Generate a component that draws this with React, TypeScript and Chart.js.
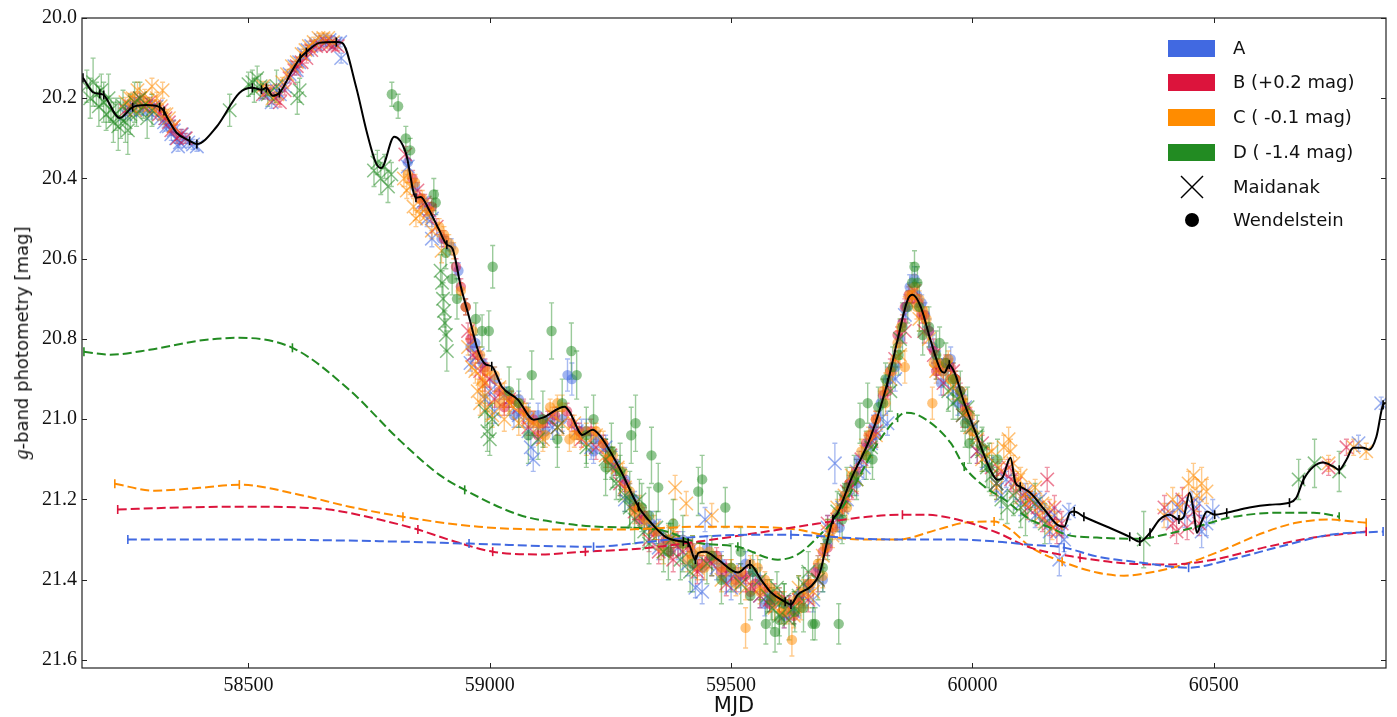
import React, { useEffect, useRef } from 'react';
import { Chart, registerables } from 'chart.js';
Chart.register(...registerables);

// ---------- axis ranges / ticks ----------
const X_MIN = 58155;
const X_MAX = 60857;
const Y_MIN = 20.0;
const Y_MAX = 21.62;
const X_TICKS = [58500, 59000, 59500, 60000, 60500];
const Y_TICKS = [20.0, 20.2, 20.4, 20.6, 20.8, 21.0, 21.2, 21.4, 21.6];

// ---------- model (black) curve ----------
const MODEL_MJD = [58157, 58178, 58192, 58200, 58233, 58260, 58289, 58316, 58325, 58331, 58351, 58378, 58393, 58434, 58481, 58508, 58527, 58537, 58550, 58564, 58591, 58607, 58620, 58647, 58682, 58694, 58723, 58744, 58764, 58775, 58802, 58826, 58847, 58857, 58874, 58895, 58911, 58922, 58940, 58957, 58977, 58992, 59004, 59025, 59058, 59091, 59110, 59155, 59165, 59192, 59213, 59227, 59267, 59308, 59328, 59364, 59401, 59411, 59426, 59432, 59446, 59473, 59514, 59539, 59562, 59583, 59612, 59624, 59638, 59665, 59684, 59700, 59711, 59721, 59748, 59789, 59824, 59845, 59866, 59876, 59893, 59913, 59934, 59942, 59952, 59963, 59983, 60010, 60037, 60052, 60062, 60079, 60089, 60099, 60120, 60149, 60176, 60190, 60202, 60211, 60231, 60279, 60326, 60347, 60368, 60388, 60409, 60428, 60438, 60450, 60459, 60465, 60475, 60486, 60502, 60527, 60574, 60616, 60657, 60671, 60686, 60707, 60727, 60748, 60760, 60775, 60789, 60810, 60822, 60837, 60851, 60857];
const MODEL_MAG = [20.149, 20.185, 20.189, 20.192, 20.249, 20.222, 20.217, 20.222, 20.232, 20.247, 20.286, 20.306, 20.314, 20.271, 20.187, 20.174, 20.179, 20.174, 20.194, 20.187, 20.130, 20.100, 20.085, 20.062, 20.060, 20.062, 20.172, 20.279, 20.361, 20.374, 20.296, 20.336, 20.448, 20.446, 20.478, 20.528, 20.565, 20.573, 20.670, 20.745, 20.834, 20.864, 20.868, 20.919, 20.951, 21.001, 20.996, 20.969, 20.981, 21.039, 21.026, 21.039, 21.118, 21.218, 21.250, 21.293, 21.305, 21.308, 21.350, 21.333, 21.330, 21.350, 21.382, 21.362, 21.400, 21.432, 21.455, 21.462, 21.437, 21.417, 21.382, 21.300, 21.250, 21.233, 21.151, 21.044, 20.909, 20.802, 20.702, 20.690, 20.720, 20.802, 20.877, 20.884, 20.864, 20.884, 20.959, 21.044, 21.126, 21.151, 21.146, 21.096, 21.158, 21.168, 21.183, 21.225, 21.263, 21.268, 21.233, 21.230, 21.243, 21.268, 21.293, 21.305, 21.283, 21.250, 21.238, 21.250, 21.243, 21.183, 21.233, 21.283, 21.255, 21.230, 21.238, 21.233, 21.220, 21.213, 21.208, 21.196, 21.151, 21.118, 21.108, 21.118, 21.126, 21.101, 21.071, 21.071, 21.076, 21.044, 20.964, 20.959];
const MODEL_KNOTS = [58157, 58192, 58200, 58260, 58316, 58325, 58378, 58393, 58508, 58527, 58537, 58564, 58607, 58620, 58682, 58847, 58911, 59004, 59308, 59401, 59411, 59426, 59539, 59612, 59624, 59711, 59824, 59952, 60099, 60211, 60231, 60326, 60347, 60368, 60428, 60502, 60527, 60657, 60686, 60760, 60851];

// ---------- microlensing (dashed) curves ----------
const ML_A_MJD = [58250, 58502, 58812, 58957, 59215, 59308, 59432, 59535, 59624, 59707, 59777, 59845, 59969, 60052, 60120, 60190, 60258, 60347, 60448, 60533, 60636, 60740, 60851];
const ML_A_MAG = [21.300, 21.300, 21.305, 21.310, 21.318, 21.308, 21.293, 21.288, 21.288, 21.293, 21.298, 21.300, 21.300, 21.305, 21.313, 21.320, 21.342, 21.357, 21.370, 21.350, 21.318, 21.288, 21.280];
const ML_A_KNOTS = [58250, 58957, 59215, 59624, 60190, 60448, 60851];

const ML_B_MJD = [58229, 58357, 58483, 58605, 58667, 58771, 58851, 58936, 59006, 59101, 59198, 59308, 59432, 59556, 59680, 59783, 59855, 59901, 59969, 60052, 60120, 60223, 60326, 60409, 60500, 60603, 60707, 60816];
const ML_B_MAG = [21.225, 21.220, 21.218, 21.220, 21.225, 21.250, 21.275, 21.308, 21.330, 21.337, 21.330, 21.323, 21.305, 21.283, 21.260, 21.243, 21.238, 21.238, 21.250, 21.283, 21.320, 21.345, 21.360, 21.362, 21.350, 21.320, 21.295, 21.280];
const ML_B_KNOTS = [58229, 58851, 59006, 59198, 59855, 60223, 60816];

const ML_C_MJD = [58223, 58306, 58399, 58481, 58605, 58709, 58820, 58977, 59143, 59267, 59432, 59514, 59638, 59707, 59777, 59845, 59928, 59983, 60045, 60079, 60120, 60186, 60258, 60314, 60368, 60438, 60521, 60603, 60671, 60740, 60789, 60816];
const ML_C_MAG = [21.161, 21.178, 21.171, 21.163, 21.188, 21.218, 21.243, 21.268, 21.275, 21.275, 21.268, 21.268, 21.275, 21.293, 21.300, 21.300, 21.275, 21.258, 21.255, 21.275, 21.318, 21.355, 21.382, 21.390, 21.382, 21.362, 21.325, 21.283, 21.258, 21.250, 21.255, 21.258];
const ML_C_KNOTS = [58223, 58481, 58820, 60045, 60186, 60816];

const ML_D_MJD = [58159, 58213, 58295, 58399, 58481, 58591, 58709, 58812, 58895, 58948, 59060, 59143, 59225, 59349, 59432, 59514, 59597, 59638, 59680, 59721, 59762, 59804, 59845, 59860, 59886, 59955, 59983, 60025, 60066, 60120, 60161, 60196, 60258, 60347, 60397, 60465, 60533, 60636, 60707, 60760];
const ML_D_MAG = [20.832, 20.839, 20.827, 20.804, 20.797, 20.822, 20.927, 21.051, 21.138, 21.176, 21.238, 21.258, 21.268, 21.275, 21.308, 21.318, 21.350, 21.337, 21.293, 21.238, 21.151, 21.059, 20.996, 20.984, 20.989, 21.059, 21.118, 21.168, 21.200, 21.250, 21.270, 21.288, 21.295, 21.298, 21.288, 21.268, 21.245, 21.233, 21.233, 21.243];
const ML_D_KNOTS = [58159, 58591, 58948, 59514, 59845, 59983, 60760];

// ---------- photometry: [MJD, mag, error] ----------
const A_MAIDANAK = [[58245, 20.24, 0.012], [58255, 20.23, 0.012], [58262, 20.22, 0.012], [58270, 20.21, 0.012], [58280, 20.23, 0.012], [58290, 20.23, 0.012], [58300, 20.24, 0.012], [58310, 20.22, 0.012], [58318, 20.25, 0.015], [58325, 20.26, 0.012], [58330, 20.27, 0.012], [58335, 20.27, 0.012], [58340, 20.29, 0.015], [58345, 20.28, 0.012], [58350, 20.30, 0.012], [58354, 20.32, 0.012], [58358, 20.31, 0.012], [58362, 20.29, 0.012], [58368, 20.30, 0.012], [58375, 20.31, 0.012], [58385, 20.315, 0.012], [58393, 20.32, 0.012],
  [58535, 20.19, 0.012], [58548, 20.21, 0.015], [58558, 20.18, 0.012], [58565, 20.19, 0.012], [58575, 20.17, 0.012], [58585, 20.14, 0.012], [58595, 20.12, 0.012], [58600, 20.13, 0.012], [58605, 20.11, 0.012], [58615, 20.09, 0.012], [58622, 20.08, 0.012], [58630, 20.07, 0.012], [58640, 20.065, 0.012], [58650, 20.055, 0.012], [58660, 20.06, 0.012], [58668, 20.055, 0.012], [58680, 20.065, 0.012], [58690, 20.06, 0.012], [58692, 20.10, 0.012],
  [58830, 20.37, 0.02], [58860, 20.46, 0.02], [58870, 20.50, 0.02], [58880, 20.50, 0.02], [58880, 20.55, 0.02], [58960, 20.86, 0.02], [58975, 20.84, 0.02], [58990, 20.95, 0.03], [59000, 20.93, 0.03], [59010, 20.98, 0.03], [59030, 20.94, 0.02], [59060, 20.99, 0.03], [59080, 21.03, 0.02], [59085, 21.07, 0.03], [59090, 21.10, 0.03], [59100, 21.02, 0.02], [59130, 21.02, 0.03], [59180, 21.03, 0.02], [59210, 21.07, 0.03], [59240, 21.07, 0.03], [59280, 21.20, 0.03], [59330, 21.27, 0.03], [59350, 21.32, 0.03], [59390, 21.32, 0.03], [59410, 21.36, 0.03], [59426, 21.42, 0.025], [59440, 21.43, 0.03], [59446, 21.25, 0.03], [59470, 21.37, 0.03], [59500, 21.42, 0.03], [59520, 21.40, 0.03], [59560, 21.44, 0.03], [59600, 21.46, 0.03], [59630, 21.48, 0.03], [59650, 21.44, 0.03], [59670, 21.45, 0.03], [59700, 21.27, 0.03], [59715, 21.11, 0.05], [59730, 21.22, 0.03], [59740, 21.20, 0.03], [59760, 21.13, 0.02], [59775, 21.12, 0.03], [59790, 21.06, 0.03], [59810, 21.00, 0.03], [59824, 21.01, 0.03], [59840, 20.90, 0.03], [59860, 20.74, 0.03], [59930, 20.86, 0.03], [59960, 20.93, 0.03], [59985, 20.97, 0.03], [60010, 21.08, 0.03], [60030, 21.11, 0.02], [60050, 21.16, 0.02], [60060, 21.19, 0.03], [60070, 21.15, 0.02], [60090, 21.18, 0.02], [60100, 21.21, 0.03], [60110, 21.18, 0.02], [60125, 21.20, 0.02], [60130, 21.24, 0.03], [60140, 21.20, 0.02], [60155, 21.24, 0.02], [60160, 21.28, 0.03], [60170, 21.24, 0.02], [60180, 21.35, 0.04], [60185, 21.28, 0.03], [60190, 21.30, 0.03], [60200, 21.23, 0.02],
  [60405, 21.24, 0.03], [60425, 21.22, 0.03], [60440, 21.24, 0.03], [60455, 21.21, 0.03], [60470, 21.21, 0.03], [60475, 21.28, 0.04], [60485, 21.26, 0.03], [60498, 21.23, 0.03], [60800, 21.06, 0.02], [60847, 20.96, 0.015]];
const A_WENDELSTEIN = [[58830, 20.36, 0.02], [58845, 20.42, 0.02], [58870, 20.47, 0.02], [58900, 20.55, 0.02], [58920, 20.57, 0.02], [58935, 20.63, 0.02], [58950, 20.72, 0.02], [58960, 20.82, 0.03], [58970, 20.81, 0.02], [58985, 20.86, 0.02], [59010, 20.90, 0.03], [59035, 20.94, 0.02], [59050, 20.99, 0.03], [59060, 20.95, 0.02], [59080, 20.99, 0.03], [59100, 20.99, 0.03], [59115, 21.03, 0.03], [59125, 21.00, 0.02], [59150, 21.00, 0.03], [59161, 20.89, 0.04], [59170, 20.90, 0.04], [59190, 21.03, 0.03], [59200, 21.03, 0.03], [59215, 21.08, 0.03], [59225, 21.05, 0.02], [59240, 21.07, 0.02], [59260, 21.11, 0.03], [59280, 21.15, 0.03], [59290, 21.19, 0.03], [59300, 21.20, 0.02], [59320, 21.25, 0.02], [59335, 21.26, 0.03], [59350, 21.28, 0.03], [59360, 21.31, 0.03], [59375, 21.30, 0.03], [59400, 21.30, 0.02], [59425, 21.34, 0.03], [59440, 21.37, 0.03], [59450, 21.32, 0.03], [59465, 21.35, 0.02], [59480, 21.36, 0.03], [59490, 21.40, 0.03], [59500, 21.38, 0.02], [59515, 21.39, 0.03], [59530, 21.36, 0.03], [59545, 21.38, 0.03], [59560, 21.40, 0.03], [59570, 21.46, 0.03], [59580, 21.44, 0.02], [59600, 21.45, 0.03], [59610, 21.49, 0.03], [59620, 21.47, 0.03], [59640, 21.44, 0.02], [59660, 21.42, 0.03], [59680, 21.37, 0.03], [59690, 21.40, 0.03], [59700, 21.31, 0.03], [59720, 21.24, 0.02], [59725, 21.27, 0.03], [59735, 21.19, 0.02], [59750, 21.15, 0.03], [59760, 21.16, 0.03], [59765, 21.10, 0.02], [59780, 21.07, 0.02], [59795, 21.02, 0.03], [59800, 21.04, 0.03], [59810, 20.96, 0.03], [59825, 20.90, 0.03], [59840, 20.87, 0.03], [59850, 20.80, 0.02], [59862, 20.72, 0.03], [59870, 20.67, 0.03], [59880, 20.65, 0.03], [59885, 20.69, 0.03], [59895, 20.71, 0.02], [59902, 20.74, 0.03], [59910, 20.78, 0.03], [59918, 20.82, 0.03], [59925, 20.86, 0.02], [59935, 20.91, 0.03], [59940, 20.88, 0.03], [59948, 20.87, 0.03], [59955, 20.85, 0.03], [59965, 20.90, 0.02], [59970, 20.96, 0.03], [59975, 20.94, 0.02], [59990, 21.00, 0.03], [60000, 21.02, 0.03]];

const B_MAIDANAK = [[58245, 20.23, 0.012], [58255, 20.22, 0.012], [58265, 20.21, 0.012], [58275, 20.20, 0.012], [58285, 20.22, 0.012], [58295, 20.21, 0.012], [58305, 20.22, 0.015], [58315, 20.24, 0.012], [58320, 20.23, 0.012], [58328, 20.25, 0.012], [58335, 20.26, 0.012], [58340, 20.28, 0.012], [58345, 20.27, 0.015], [58352, 20.30, 0.012], [58360, 20.29, 0.012], [58370, 20.30, 0.012],
  [58530, 20.19, 0.012], [58545, 20.18, 0.012], [58555, 20.20, 0.015], [58565, 20.21, 0.012], [58575, 20.18, 0.012], [58585, 20.15, 0.012], [58595, 20.13, 0.012], [58600, 20.12, 0.012], [58610, 20.11, 0.012], [58620, 20.10, 0.012], [58630, 20.08, 0.012], [58640, 20.07, 0.012], [58650, 20.07, 0.012], [58660, 20.06, 0.012], [58668, 20.065, 0.012], [58675, 20.07, 0.012], [58685, 20.07, 0.012],
  [58825, 20.34, 0.02], [58850, 20.43, 0.02], [58865, 20.46, 0.02], [58875, 20.48, 0.02], [58890, 20.52, 0.02], [58955, 20.78, 0.02], [58965, 20.84, 0.02], [58980, 20.88, 0.02], [58990, 20.91, 0.02], [59000, 20.90, 0.02], [59010, 20.95, 0.02], [59040, 20.95, 0.02], [59060, 20.97, 0.02], [59080, 21.02, 0.02], [59120, 21.00, 0.02], [59140, 21.02, 0.02], [59190, 21.05, 0.02], [59220, 21.07, 0.03], [59250, 21.09, 0.02], [59270, 21.16, 0.03], [59300, 21.23, 0.02], [59330, 21.30, 0.03], [59350, 21.33, 0.03], [59380, 21.35, 0.03], [59400, 21.33, 0.03], [59430, 21.38, 0.03], [59460, 21.36, 0.03], [59490, 21.41, 0.03], [59530, 21.40, 0.03], [59560, 21.44, 0.03], [59580, 21.45, 0.03], [59610, 21.49, 0.03], [59640, 21.45, 0.03], [59660, 21.45, 0.03], [59680, 21.40, 0.03], [59700, 21.26, 0.02], [59720, 21.25, 0.02], [59740, 21.18, 0.02], [59750, 21.17, 0.03], [59770, 21.10, 0.02], [59790, 21.05, 0.02], [59800, 21.03, 0.03], [59840, 20.85, 0.02], [59860, 20.78, 0.03], [59880, 20.68, 0.02], [59900, 20.78, 0.03], [59920, 20.84, 0.02], [59940, 20.91, 0.03], [59960, 20.88, 0.02], [59980, 20.99, 0.03], [60000, 21.02, 0.02], [60010, 21.08, 0.03], [60020, 21.06, 0.02], [60040, 21.12, 0.02], [60050, 21.16, 0.03], [60060, 21.13, 0.02], [60075, 21.12, 0.02], [60080, 21.15, 0.03], [60090, 21.16, 0.02], [60105, 21.19, 0.02], [60115, 21.22, 0.03], [60120, 21.20, 0.02], [60135, 21.22, 0.02], [60145, 21.25, 0.03], [60155, 21.15, 0.03], [60160, 21.26, 0.03], [60170, 21.22, 0.03], [60175, 21.28, 0.03], [60185, 21.26, 0.03],
  [60398, 21.22, 0.03], [60415, 21.26, 0.03], [60423, 21.28, 0.03], [60435, 21.20, 0.03], [60445, 21.27, 0.03], [60459, 21.23, 0.03], [60470, 21.26, 0.03], [60738, 21.12, 0.02], [60775, 21.07, 0.02]];
const B_WENDELSTEIN = [[58840, 20.40, 0.02], [58855, 20.45, 0.02], [58880, 20.47, 0.02], [58905, 20.55, 0.02], [58930, 20.62, 0.02], [58940, 20.67, 0.02], [58950, 20.72, 0.02], [58960, 20.80, 0.02], [58975, 20.84, 0.02], [58990, 20.87, 0.02], [59020, 20.93, 0.02], [59030, 20.97, 0.02], [59045, 20.95, 0.02], [59070, 20.98, 0.03], [59090, 21.00, 0.02], [59100, 21.04, 0.02], [59110, 21.01, 0.02], [59135, 20.99, 0.02], [59160, 20.98, 0.02], [59170, 21.01, 0.02], [59185, 21.03, 0.02], [59210, 21.03, 0.03], [59235, 21.06, 0.02], [59245, 21.10, 0.02], [59260, 21.12, 0.02], [59280, 21.16, 0.02], [59300, 21.22, 0.03], [59310, 21.25, 0.02], [59320, 21.24, 0.02], [59340, 21.28, 0.02], [59365, 21.30, 0.02], [59375, 21.33, 0.02], [59390, 21.31, 0.03], [59415, 21.32, 0.02], [59430, 21.37, 0.02], [59440, 21.36, 0.02], [59455, 21.35, 0.02], [59470, 21.34, 0.02], [59480, 21.38, 0.02], [59490, 21.37, 0.02], [59510, 21.40, 0.03], [59530, 21.39, 0.02], [59540, 21.43, 0.02], [59550, 21.41, 0.02], [59570, 21.42, 0.02], [59580, 21.46, 0.02], [59590, 21.44, 0.03], [59605, 21.45, 0.02], [59620, 21.46, 0.02], [59630, 21.49, 0.02], [59640, 21.45, 0.02], [59660, 21.41, 0.03], [59675, 21.38, 0.02], [59690, 21.33, 0.02], [59700, 21.32, 0.02], [59710, 21.27, 0.02], [59730, 21.22, 0.02], [59735, 21.20, 0.02], [59745, 21.16, 0.02], [59760, 21.13, 0.03], [59780, 21.06, 0.02], [59790, 21.04, 0.02], [59800, 21.00, 0.02], [59815, 20.94, 0.02], [59825, 20.93, 0.02], [59830, 20.88, 0.03], [59845, 20.79, 0.02], [59855, 20.76, 0.02], [59860, 20.72, 0.02], [59868, 20.69, 0.02], [59875, 20.70, 0.02], [59888, 20.71, 0.02], [59895, 20.74, 0.02], [59900, 20.74, 0.02], [59910, 20.78, 0.02], [59920, 20.83, 0.03], [59925, 20.88, 0.02], [59932, 20.87, 0.02], [59945, 20.86, 0.02], [59955, 20.87, 0.02], [59965, 20.90, 0.02], [59975, 20.93, 0.02], [59985, 20.97, 0.02], [59990, 20.98, 0.02]];

const C_MAIDANAK = [[58245, 20.21, 0.012], [58255, 20.20, 0.012], [58260, 20.20, 0.015], [58265, 20.23, 0.012], [58270, 20.18, 0.02], [58275, 20.21, 0.015], [58280, 20.22, 0.012], [58285, 20.19, 0.012], [58290, 20.21, 0.012], [58295, 20.22, 0.012], [58300, 20.17, 0.02], [58305, 20.23, 0.012], [58310, 20.20, 0.015], [58318, 20.22, 0.012], [58322, 20.18, 0.02], [58325, 20.24, 0.012], [58330, 20.24, 0.012], [58335, 20.25, 0.012], [58345, 20.27, 0.012],
  [58530, 20.17, 0.012], [58540, 20.18, 0.012], [58550, 20.20, 0.012], [58560, 20.19, 0.012], [58570, 20.16, 0.012], [58580, 20.14, 0.012], [58590, 20.12, 0.012], [58600, 20.11, 0.012], [58610, 20.09, 0.012], [58618, 20.08, 0.012], [58625, 20.07, 0.012], [58635, 20.06, 0.012], [58645, 20.05, 0.012], [58655, 20.05, 0.012], [58665, 20.05, 0.012], [58675, 20.06, 0.012],
  [58822, 20.40, 0.02], [58828, 20.43, 0.02], [58835, 20.42, 0.02], [58842, 20.47, 0.02], [58847, 20.50, 0.02], [58855, 20.49, 0.02], [58860, 20.47, 0.02], [58870, 20.49, 0.02], [58880, 20.53, 0.02], [58900, 20.58, 0.03], [58955, 20.82, 0.02], [58963, 20.87, 0.02], [58970, 20.88, 0.03], [58975, 20.93, 0.03], [58980, 20.96, 0.03], [58985, 20.90, 0.03], [58990, 20.94, 0.02], [58995, 20.97, 0.03], [59005, 20.99, 0.03], [59020, 20.92, 0.02], [59030, 21.00, 0.03], [59040, 20.96, 0.02], [59050, 20.97, 0.03], [59060, 21.01, 0.03], [59070, 20.99, 0.03], [59080, 21.00, 0.02], [59100, 21.02, 0.02], [59110, 21.05, 0.03], [59130, 20.99, 0.02], [59150, 21.01, 0.03], [59175, 21.01, 0.02], [59200, 21.06, 0.03], [59220, 21.04, 0.02], [59240, 21.09, 0.03], [59265, 21.12, 0.02], [59280, 21.17, 0.03], [59300, 21.21, 0.02], [59320, 21.26, 0.03], [59340, 21.27, 0.03], [59360, 21.33, 0.03], [59380, 21.28, 0.03], [59384, 21.17, 0.03], [59407, 21.21, 0.03], [59420, 21.32, 0.03], [59430, 21.37, 0.03], [59460, 21.24, 0.03], [59480, 21.40, 0.03], [59500, 21.38, 0.03], [59530, 21.42, 0.03], [59560, 21.42, 0.03], [59590, 21.47, 0.03], [59610, 21.46, 0.03], [59630, 21.49, 0.03], [59640, 21.42, 0.03], [59660, 21.44, 0.03], [59670, 21.43, 0.03], [59690, 21.34, 0.03], [59700, 21.28, 0.03], [59710, 21.29, 0.03], [59720, 21.22, 0.02], [59735, 21.19, 0.02], [59750, 21.14, 0.02], [59760, 21.15, 0.03], [59780, 21.08, 0.02], [59800, 21.04, 0.03], [59830, 20.90, 0.02], [59850, 20.84, 0.03], [59870, 20.71, 0.02], [59890, 20.75, 0.03], [59910, 20.80, 0.02], [59925, 20.88, 0.03], [59945, 20.87, 0.02], [59960, 20.92, 0.03], [59975, 20.94, 0.02], [59995, 21.02, 0.03], [60010, 21.05, 0.02], [60020, 21.10, 0.03], [60030, 21.09, 0.02], [60040, 21.08, 0.02], [60050, 21.17, 0.03], [60055, 21.12, 0.02], [60065, 21.07, 0.03], [60075, 21.05, 0.03], [60079, 21.08, 0.03], [60085, 21.11, 0.02], [60090, 21.18, 0.03], [60095, 21.15, 0.02], [60100, 21.14, 0.02], [60110, 21.21, 0.03], [60115, 21.18, 0.02], [60120, 21.20, 0.02], [60130, 21.17, 0.02], [60140, 21.24, 0.03], [60145, 21.21, 0.02], [60160, 21.22, 0.02], [60165, 21.27, 0.03], [60175, 21.26, 0.03],
  [60397, 21.24, 0.03], [60415, 21.20, 0.03], [60430, 21.22, 0.03], [60448, 21.16, 0.03], [60458, 21.14, 0.03], [60465, 21.19, 0.04], [60475, 21.16, 0.04], [60485, 21.18, 0.03], [60738, 21.11, 0.02], [60790, 21.07, 0.02], [60816, 21.08, 0.02]];
const C_WENDELSTEIN = [[58830, 20.39, 0.02], [58845, 20.41, 0.02], [58860, 20.45, 0.02], [58875, 20.48, 0.02], [58895, 20.52, 0.02], [58905, 20.54, 0.02], [58915, 20.56, 0.02], [58925, 20.58, 0.02], [58940, 20.68, 0.02], [58950, 20.72, 0.02], [58965, 20.78, 0.02], [58980, 20.84, 0.02], [58985, 20.91, 0.03], [58995, 20.88, 0.02], [59010, 20.89, 0.02], [59020, 20.96, 0.03], [59030, 20.94, 0.03], [59045, 20.95, 0.02], [59060, 20.96, 0.02], [59075, 20.98, 0.02], [59090, 21.01, 0.03], [59105, 21.01, 0.02], [59115, 21.04, 0.03], [59125, 20.97, 0.02], [59140, 20.96, 0.02], [59150, 20.97, 0.03], [59165, 21.05, 0.03], [59175, 21.04, 0.03], [59185, 21.04, 0.02], [59200, 21.03, 0.02], [59220, 21.03, 0.02], [59235, 21.06, 0.03], [59245, 21.10, 0.03], [59255, 21.09, 0.02], [59275, 21.13, 0.02], [59290, 21.18, 0.02], [59300, 21.23, 0.03], [59310, 21.22, 0.03], [59325, 21.25, 0.02], [59345, 21.28, 0.02], [59355, 21.32, 0.03], [59370, 21.30, 0.03], [59385, 21.30, 0.02], [59400, 21.31, 0.02], [59410, 21.35, 0.03], [59420, 21.34, 0.03], [59435, 21.33, 0.02], [59445, 21.37, 0.03], [59455, 21.33, 0.02], [59470, 21.35, 0.02], [59480, 21.37, 0.03], [59500, 21.37, 0.02], [59510, 21.41, 0.03], [59520, 21.38, 0.02], [59530, 21.52, 0.05], [59540, 21.36, 0.02], [59555, 21.37, 0.03], [59560, 21.43, 0.03], [59570, 21.40, 0.02], [59580, 21.42, 0.02], [59592, 21.44, 0.02], [59600, 21.45, 0.03], [59605, 21.48, 0.03], [59615, 21.48, 0.03], [59626, 21.55, 0.04], [59635, 21.45, 0.02], [59645, 21.47, 0.03], [59650, 21.43, 0.03], [59665, 21.41, 0.02], [59680, 21.36, 0.02], [59690, 21.39, 0.03], [59695, 21.32, 0.02], [59710, 21.27, 0.03], [59720, 21.23, 0.02], [59735, 21.19, 0.02], [59740, 21.22, 0.03], [59750, 21.14, 0.02], [59770, 21.08, 0.03], [59780, 21.09, 0.03], [59785, 21.04, 0.02], [59800, 21.00, 0.02], [59815, 20.93, 0.03], [59820, 20.96, 0.03], [59830, 20.88, 0.02], [59840, 20.85, 0.03], [59845, 20.81, 0.03], [59852, 20.77, 0.02], [59860, 20.87, 0.04], [59870, 20.69, 0.02], [59875, 20.69, 0.02], [59880, 20.67, 0.03], [59885, 20.72, 0.03], [59890, 20.70, 0.02], [59898, 20.73, 0.02], [59905, 20.75, 0.03], [59917, 20.96, 0.04], [59920, 20.86, 0.03], [59930, 20.86, 0.02], [59940, 20.88, 0.02], [59950, 20.85, 0.02], [59955, 20.90, 0.03], [59965, 20.90, 0.02], [59980, 20.95, 0.03], [59985, 20.98, 0.03], [59995, 20.99, 0.02], [60000, 21.03, 0.02]];

const D_MAIDANAK = [[58165, 20.17, 0.04], [58172, 20.20, 0.05], [58178, 20.16, 0.06], [58185, 20.19, 0.03], [58190, 20.22, 0.05], [58195, 20.18, 0.04], [58200, 20.21, 0.05], [58205, 20.24, 0.04], [58210, 20.20, 0.06], [58215, 20.23, 0.03], [58220, 20.26, 0.05], [58225, 20.24, 0.04], [58230, 20.27, 0.06], [58235, 20.25, 0.05], [58240, 20.22, 0.04], [58245, 20.26, 0.05], [58250, 20.28, 0.06], [58255, 20.24, 0.05], [58264, 20.21, 0.05], [58268, 20.24, 0.03], [58275, 20.20, 0.04], [58282, 20.22, 0.03], [58290, 20.25, 0.05], [58300, 20.23, 0.04],
  [58461, 20.23, 0.04], [58500, 20.165, 0.03], [58508, 20.16, 0.03], [58512, 20.18, 0.03], [58518, 20.15, 0.03], [58525, 20.17, 0.03], [58540, 20.19, 0.03], [58558, 20.17, 0.04], [58601, 20.20, 0.04], [58606, 20.18, 0.03],
  [58760, 20.38, 0.04], [58767, 20.36, 0.03], [58774, 20.40, 0.04], [58782, 20.37, 0.03], [58789, 20.42, 0.04], [58796, 20.39, 0.03], [58898, 20.63, 0.04], [58901, 20.66, 0.03], [58903, 20.70, 0.04], [58905, 20.73, 0.04], [58907, 20.76, 0.03], [58909, 20.79, 0.04], [58911, 20.83, 0.05], [58990, 20.98, 0.04], [58995, 21.03, 0.05], [59000, 21.05, 0.04], [59005, 21.00, 0.04], [59100, 21.05, 0.05], [59140, 21.02, 0.05], [59200, 21.07, 0.05], [59240, 21.10, 0.05], [59255, 21.12, 0.05], [59262, 21.16, 0.04], [59270, 21.14, 0.05], [59280, 21.19, 0.04], [59290, 21.22, 0.05], [59300, 21.25, 0.06], [59310, 21.20, 0.05], [59320, 21.28, 0.04], [59330, 21.31, 0.05], [59345, 21.27, 0.04], [59360, 21.33, 0.05], [59375, 21.30, 0.04], [59395, 21.35, 0.05], [59415, 21.38, 0.05], [59450, 21.36, 0.05], [59520, 21.41, 0.05], [59560, 21.40, 0.05], [59575, 21.44, 0.04], [59585, 21.47, 0.05], [59595, 21.42, 0.04], [59600, 21.49, 0.05], [59610, 21.45, 0.04], [59620, 21.50, 0.05], [59630, 21.47, 0.04], [59640, 21.44, 0.05], [59650, 21.41, 0.04], [59660, 21.38, 0.05], [59680, 21.40, 0.05], [59720, 21.23, 0.05], [59735, 21.20, 0.04], [59760, 21.15, 0.05], [59790, 21.07, 0.05], [59830, 20.93, 0.05], [59850, 20.80, 0.05], [59950, 20.93, 0.05], [59960, 20.96, 0.04], [59970, 20.95, 0.05], [59980, 20.99, 0.04], [59990, 20.97, 0.05], [60000, 21.02, 0.04], [60010, 21.04, 0.05], [60020, 21.08, 0.05], [60030, 21.12, 0.05], [60040, 21.14, 0.05], [60050, 21.16, 0.04], [60060, 21.20, 0.05], [60072, 21.22, 0.04], [60085, 21.19, 0.05], [60100, 21.22, 0.05], [60110, 21.24, 0.05], [60130, 21.21, 0.05], [60150, 21.26, 0.05],
  [60355, 21.30, 0.07], [60676, 21.15, 0.05], [60709, 21.11, 0.06], [60760, 21.13, 0.05]];
const D_WENDELSTEIN = [[58797, 20.19, 0.03], [58810, 20.22, 0.03], [58826, 20.30, 0.03], [58835, 20.33, 0.03], [58884, 20.44, 0.04], [58888, 20.46, 0.03], [58909, 20.585, 0.04], [58922, 20.65, 0.04], [58932, 20.70, 0.05], [58971, 20.75, 0.04], [58984, 20.78, 0.04], [58998, 20.78, 0.05], [59006, 20.62, 0.053], [59040, 20.93, 0.06], [59060, 20.96, 0.06], [59080, 21.04, 0.07], [59087, 20.89, 0.06], [59110, 21.00, 0.07], [59128, 20.78, 0.07], [59140, 21.05, 0.07], [59150, 20.96, 0.06], [59169, 20.83, 0.07], [59180, 20.89, 0.06], [59200, 21.04, 0.07], [59215, 21.00, 0.06], [59240, 21.12, 0.07], [59252, 21.08, 0.07], [59270, 21.13, 0.07], [59290, 21.20, 0.07], [59293, 21.04, 0.07], [59302, 21.01, 0.07], [59315, 21.22, 0.06], [59330, 21.24, 0.07], [59335, 21.09, 0.07], [59349, 21.17, 0.06], [59370, 21.33, 0.07], [59380, 21.26, 0.06], [59400, 21.31, 0.07], [59420, 21.36, 0.07], [59432, 21.18, 0.06], [59440, 21.15, 0.06], [59460, 21.34, 0.05], [59480, 21.40, 0.06], [59488, 21.22, 0.05], [59500, 21.37, 0.06], [59520, 21.33, 0.06], [59540, 21.44, 0.06], [59545, 21.38, 0.05], [59572, 21.51, 0.05], [59583, 21.45, 0.05], [59591, 21.53, 0.05], [59600, 21.50, 0.06], [59610, 21.46, 0.05], [59632, 21.48, 0.05], [59650, 21.47, 0.06], [59669, 21.51, 0.04], [59674, 21.51, 0.04], [59690, 21.37, 0.06], [59700, 21.30, 0.05], [59723, 21.51, 0.05], [59730, 21.25, 0.06], [59740, 21.17, 0.05], [59755, 21.14, 0.05], [59767, 21.01, 0.05], [59780, 21.09, 0.06], [59783, 20.96, 0.05], [59793, 21.10, 0.05], [59805, 20.97, 0.05], [59815, 20.96, 0.06], [59820, 20.90, 0.04], [59835, 20.87, 0.05], [59847, 20.84, 0.05], [59855, 20.77, 0.06], [59866, 20.72, 0.04], [59875, 20.66, 0.05], [59880, 20.62, 0.04], [59886, 20.66, 0.04], [59890, 20.72, 0.06], [59897, 20.79, 0.05], [59910, 20.77, 0.05], [59925, 20.84, 0.06], [59932, 20.81, 0.04], [59945, 20.86, 0.05], [59960, 20.90, 0.04], [59975, 20.93, 0.05], [59985, 21.01, 0.06], [59994, 21.06, 0.05], [60020, 21.07, 0.05], [60035, 21.12, 0.06], [60052, 21.10, 0.05]];

// ---------- legend ----------
const LEGEND_LABELS = ['A', 'B (+0.2 mag)', 'C ( -0.1 mag)', 'D ( -1.4 mag)'];
const COLORS: number[][] = [[65, 105, 225], [220, 20, 60], [255, 140, 0], [34, 139, 34]];

const rgba = (c: number[], a: number) => `rgba(${c[0]},${c[1]},${c[2]},${a})`;

function pointSet(arr: number[][], color: number[], cross: boolean, order: number) {
  return {
    type: 'scatter',
    data: arr.map(([x, y, e]) => ({ x, y, e })),
    pointStyle: cross ? 'crossRot' : 'circle',
    pointRadius: cross ? 9.5 : 5.2,
    pointBorderColor: cross ? rgba(color, 0.55) : 'rgba(0,0,0,0)',
    pointBackgroundColor: cross ? 'rgba(0,0,0,0)' : rgba(color, 0.5),
    pointBorderWidth: cross ? 1.5 : 0,
    showLine: false,
    errColor: rgba(color, 0.45),
    order,
  };
}

function curveSet(mjd: number[], mag: number[], knots: number[], color: string, dashed: boolean, order: number) {
  return {
    type: 'line',
    data: mjd.map((x, i) => ({ x, y: mag[i] })),
    borderColor: color,
    borderWidth: 2,
    borderDash: dashed ? [9, 4] : [],
    fill: false,
    cubicInterpolationMode: 'monotone',
    pointStyle: 'line',
    pointRotation: 90,
    pointRadius: (c: any) => (c.raw && knots.includes(c.raw.x) ? 4.5 : 0),
    pointBorderColor: color,
    pointBackgroundColor: color,
    pointBorderWidth: 1.6,
    order,
  };
}

const errorBarPlugin = {
  id: 'errorBars',
  beforeDatasetsDraw(chart: any) {
    const { ctx, chartArea, scales } = chart;
    const xs = scales.x, ys = scales.y;
    ctx.save();
    ctx.beginPath();
    ctx.rect(chartArea.left, chartArea.top, chartArea.right - chartArea.left, chartArea.bottom - chartArea.top);
    ctx.clip();
    ctx.lineWidth = 1.4;
    const metas = chart.getSortedVisibleDatasetMetas().slice().reverse();
    metas.forEach((meta: any) => {
      const ds = chart.data.datasets[meta.index];
      if (!ds.errColor) return;
      ctx.strokeStyle = ds.errColor;
      ds.data.forEach((p: any) => {
        const px = xs.getPixelForValue(p.x);
        const y1 = ys.getPixelForValue(p.y - p.e);
        const y2 = ys.getPixelForValue(p.y + p.e);
        ctx.beginPath();
        ctx.moveTo(px, y1); ctx.lineTo(px, y2);
        ctx.moveTo(px - 2.5, y1); ctx.lineTo(px + 2.5, y1);
        ctx.moveTo(px - 2.5, y2); ctx.lineTo(px + 2.5, y2);
        ctx.stroke();
      });
    });
    ctx.restore();
  },
};

const framePlugin = {
  id: 'frame',
  afterDraw(chart: any) {
    const { ctx, chartArea, scales } = chart;
    const { left, right, top, bottom } = chartArea;
    ctx.save();
    ctx.strokeStyle = '#222';
    ctx.lineWidth = 1.2;
    ctx.strokeRect(left, top, right - left, bottom - top);
    ctx.lineWidth = 1;
    ctx.beginPath();
    scales.x.ticks.forEach((t: any) => {
      const px = Math.round(scales.x.getPixelForValue(t.value)) + 0.5;
      ctx.moveTo(px, bottom); ctx.lineTo(px, bottom - 5);
      ctx.moveTo(px, top); ctx.lineTo(px, top + 5);
    });
    scales.y.ticks.forEach((t: any) => {
      const py = Math.round(scales.y.getPixelForValue(t.value)) + 0.5;
      ctx.moveTo(left, py); ctx.lineTo(left + 5, py);
      ctx.moveTo(right, py); ctx.lineTo(right - 5, py);
    });
    ctx.stroke();
    ctx.restore();
  },
};

export default function App() {
  const ref = useRef<HTMLCanvasElement>(null);

  useEffect(() => {
    if (!ref.current) return;
    const pointOrders = [6, 5, 4, 3];
    const pointData = [
      [A_MAIDANAK, A_WENDELSTEIN],
      [B_MAIDANAK, B_WENDELSTEIN],
      [C_MAIDANAK, C_WENDELSTEIN],
      [D_MAIDANAK, D_WENDELSTEIN],
    ];
    const datasets: any[] = [];
    pointData.forEach(([mai, wen], i) => {
      datasets.push(pointSet(mai, COLORS[i], true, pointOrders[i]));
      datasets.push(pointSet(wen, COLORS[i], false, pointOrders[i]));
    });
    datasets.push(curveSet(ML_A_MJD, ML_A_MAG, ML_A_KNOTS, rgba(COLORS[0], 1), true, 2));
    datasets.push(curveSet(ML_B_MJD, ML_B_MAG, ML_B_KNOTS, rgba(COLORS[1], 1), true, 2));
    datasets.push(curveSet(ML_C_MJD, ML_C_MAG, ML_C_KNOTS, rgba(COLORS[2], 1), true, 2));
    datasets.push(curveSet(ML_D_MJD, ML_D_MAG, ML_D_KNOTS, rgba(COLORS[3], 1), true, 2));
    datasets.push(curveSet(MODEL_MJD, MODEL_MAG, MODEL_KNOTS, '#000', false, 0));

    const chart = new Chart(ref.current, {
      type: 'scatter',
      data: { datasets },
      options: {
        animation: false,
        responsive: false,
        events: [],
        layout: { padding: { left: 22, right: 7, top: 18, bottom: 0 } },
        plugins: { legend: { display: false }, tooltip: { enabled: false } },
        scales: {
          x: {
            type: 'linear',
            min: X_MIN,
            max: X_MAX,
            grid: { display: false, drawTicks: false },
            border: { display: false },
            afterBuildTicks: (s: any) => { s.ticks = X_TICKS.map((v) => ({ value: v })); },
            ticks: {
              maxRotation: 0,
              autoSkip: false,
              padding: 6,
              color: '#111',
              font: { family: 'Liberation Serif', size: 20 },
              callback: (v: any) => String(v),
            },
            title: {
              display: true,
              text: 'MJD',
              color: '#111',
              font: { family: 'DejaVu Sans', size: 21, lineHeight: 1 },
              padding: { top: 0, bottom: 0 },
            },
            afterFit: (s: any) => { s.height = 49; },
          },
          y: {
            type: 'linear',
            reverse: true,
            min: Y_MIN,
            max: Y_MAX,
            grid: { display: false, drawTicks: false },
            border: { display: false },
            afterBuildTicks: (s: any) => { s.ticks = Y_TICKS.map((v) => ({ value: v })); },
            ticks: {
              autoSkip: false,
              padding: 5,
              color: '#111',
              font: { family: 'Liberation Serif', size: 20 },
              callback: (v: any) => Number(v).toFixed(1),
            },
            afterFit: (s: any) => { s.width = 60; },
          },
        },
      } as any,
      plugins: [errorBarPlugin, framePlugin],
    } as any);
    return () => chart.destroy();
  }, []);

  const rowY = [48, 82, 117, 152, 187, 220];
  const textStyle: React.CSSProperties = {
    position: 'absolute', left: 1233, fontFamily: 'DejaVu Sans', fontSize: 18,
    lineHeight: '18px', color: '#111', whiteSpace: 'pre',
  };

  return (
    <div style={{ position: 'fixed', left: 0, top: 0, width: 1397, height: 717, background: '#fff' }}>
      <canvas ref={ref} width={1397} height={717} style={{ display: 'block' }} />
      <div
        style={{
          position: 'absolute', left: 22, top: 343, transform: 'translate(-50%, -50%) rotate(-90deg)',
          whiteSpace: 'nowrap', color: '#111', lineHeight: '20px',
        }}
      >
        <span style={{ fontFamily: 'Liberation Serif', fontStyle: 'italic', fontSize: 20 }}>g</span>
        <span style={{ fontFamily: 'DejaVu Sans', fontSize: 18 }}>-band photometry [mag]</span>
      </div>
      {LEGEND_LABELS.map((lab, i) => (
        <React.Fragment key={lab}>
          <div style={{ position: 'absolute', left: 1168, top: rowY[i] - 8.5, width: 47, height: 17, background: rgba(COLORS[i], 1) }} />
          <div style={{ ...textStyle, top: rowY[i] - 9 }}>{lab}</div>
        </React.Fragment>
      ))}
      <svg style={{ position: 'absolute', left: 1180, top: rowY[4] - 12 }} width={24} height={24}>
        <line x1={1} y1={1} x2={23} y2={23} stroke="#000" strokeWidth={1.4} />
        <line x1={23} y1={1} x2={1} y2={23} stroke="#000" strokeWidth={1.4} />
      </svg>
      <div style={{ ...textStyle, top: rowY[4] - 9 }}>Maidanak</div>
      <div style={{ position: 'absolute', left: 1185, top: rowY[5] - 7, width: 14, height: 14, borderRadius: 7, background: '#000' }} />
      <div style={{ ...textStyle, top: rowY[5] - 9 }}>Wendelstein</div>
    </div>
  );
}
